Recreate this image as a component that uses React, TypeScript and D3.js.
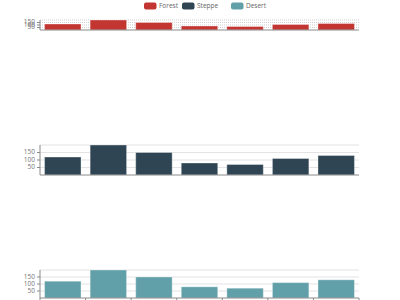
import React from "react";
import * as d3 from "d3";

const categories = ["Mon", "Tue", "Wed", "Thu", "Fri", "Sat", "Sun"];
const seriesNames = ["Forest", "Steppe", "Desert"];
const forestValues = [120, 200, 150, 80, 70, 110, 130];
const steppeValues = [120, 200, 150, 80, 70, 110, 130];
const desertValues = [120, 200, 150, 80, 70, 110, 130];
const yTicks = [50, 100, 150];
const yGridLines = [50, 100, 150, 200];
const colors = ["#c23531", "#2f4554", "#61a0a8"];

const W = 400;
const H = 300;
const left = 40;
const right = 359;
const FONT = "'Open Sans', 'DejaVu Sans', sans-serif";

const grids = [
  { top: 20, bottom: 30, values: forestValues, dotted: true, xTicks: false },
  { top: 145, bottom: 175, values: steppeValues, dotted: false, xTicks: false },
  { top: 270, bottom: 298, values: desertValues, dotted: false, xTicks: true },
];

const legendX = [144, 182, 231];

function Grid({ g, color }: { g: any; color: string }) {
  const x = d3
    .scaleBand<string>()
    .domain(categories)
    .range([left, right])
    .paddingInner(0.2)
    .paddingOuter(0.1);
  const y = d3.scaleLinear().domain([0, 200]).range([g.bottom, g.top]);
  const step = (right - left) / categories.length;
  return (
    <g>
      {yGridLines.map((v) => (
        <line
          key={"s" + v}
          x1={left}
          x2={right}
          y1={y(v)}
          y2={y(v)}
          stroke={g.dotted ? "#cfcfcf" : "#e3e3e3"}
          strokeWidth={1}
          strokeDasharray={g.dotted ? "1,1" : undefined}
        />
      ))}
      {g.values.map((v: number, i: number) => (
        <rect
          key={"b" + i}
          x={x(categories[i])}
          y={y(v)}
          width={x.bandwidth()}
          height={y(0) - y(v)}
          fill={color}
          stroke="rgba(255,255,255,0.35)"
          strokeWidth={1}
        />
      ))}
      <line x1={left} x2={left} y1={g.top} y2={g.bottom} stroke="#8a8a8a" strokeWidth={1} />
      <line x1={left} x2={right} y1={g.bottom} y2={g.bottom} stroke="#8a8a8a" strokeWidth={1} />
      {yTicks.map((v) => (
        <g key={"t" + v}>
          <line x1={37} x2={left} y1={y(v)} y2={y(v)} stroke="#8a8a8a" strokeWidth={1} />
          <text
            x={35}
            y={y(v)}
            textAnchor="end"
            dominantBaseline="middle"
            fontSize={6.5}
            fill="#777"
            fontFamily={FONT}
          >
            {v}
          </text>
        </g>
      ))}
      {g.xTicks &&
        d3.range(categories.length + 1).map((i) => (
          <line
            key={"x" + i}
            x1={left + i * step}
            x2={left + i * step}
            y1={g.bottom}
            y2={g.bottom + 4}
            stroke="#8a8a8a"
            strokeWidth={1}
          />
        ))}
    </g>
  );
}

export default function App() {
  return (
    <svg
      width={W}
      height={H}
      style={{ position: "absolute", left: 0, top: 0, background: "#fff" }}
    >
      {seriesNames.map((name, i) => (
        <g key={name}>
          <rect x={legendX[i]} y={2.5} width={12.5} height={7} rx={2} fill={colors[i]} />
          <text
            x={legendX[i] + 15}
            y={6}
            dominantBaseline="middle"
            fontSize={6.5}
            fill="#666"
            fontFamily={FONT}
          >
            {name}
          </text>
        </g>
      ))}
      {grids.map((g, i) => (
        <Grid key={i} g={g} color={colors[i]} />
      ))}
    </svg>
  );
}
